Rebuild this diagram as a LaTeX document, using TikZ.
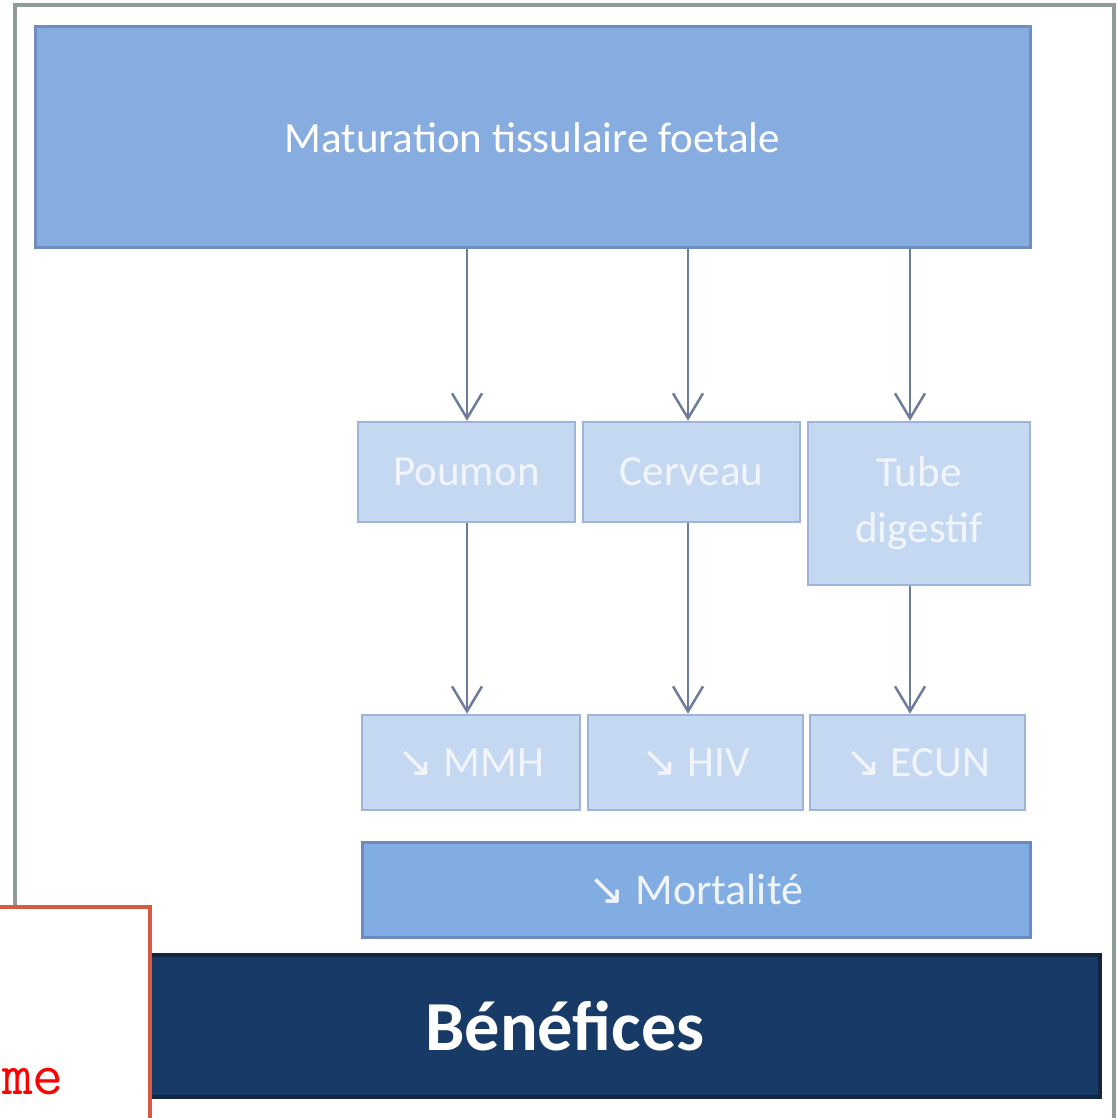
\documentclass[tikz,border=0pt]{standalone}
\usepackage{fontspec}
\setmainfont{Carlito}
\newfontfamily\symfont{DejaVu Sans}
\usetikzlibrary{arrows.meta}
\definecolor{framegray}{HTML}{8E9C94}
\definecolor{topfill}{HTML}{86ACE0}
\definecolor{topedge}{HTML}{6F8DBD}
\definecolor{lightfill}{HTML}{C5D8F2}
\definecolor{lightedge}{HTML}{9FB4D8}
\definecolor{lighttext}{HTML}{F1F5FB}
\definecolor{mortfill}{HTML}{82ADE2}
\definecolor{mortedge}{HTML}{6C8AC0}
\definecolor{navyfill}{HTML}{183A66}
\definecolor{navyedge}{HTML}{14253F}
\definecolor{arrowcol}{HTML}{6E7C9C}
\definecolor{redframe}{HTML}{D65A45}
\tikzset{
  boxbase/.style={rectangle, inner sep=0pt, align=center},
  topbox/.style={boxbase, fill=topfill, draw=topedge, line width=0.06cm, text=white, font=\fontsize{24.5}{28}\selectfont},
  lightbox/.style={boxbase, fill=lightfill, draw=lightedge, line width=0.05cm, text=lighttext, font=\fontsize{24.5}{32}\selectfont},
  mortbox/.style={boxbase, fill=mortfill, draw=mortedge, line width=0.06cm, text=lighttext, font=\fontsize{25}{28}\selectfont},
  navybox/.style={boxbase, fill=navyfill, draw=navyedge, line width=0.08cm, text=white, font=\fontsize{40}{44}\selectfont\bfseries},
  flowarrow/.style={draw=arrowcol, line width=0.05cm, -{Straight Barb[length=0.5cm, width=0.6cm, line width=0.05cm]}},
}
\newcommand{\dn}{{\symfont\char"2198}}
\begin{document}
\begin{tikzpicture}[x=0.02cm, y=-0.02cm]
\useasboundingbox (0,0) rectangle (1117,1118);
\clip (0,0) rectangle (1117,1118);
\fill[white] (0,0) rectangle (1117,1118);
% outer frame
\draw[framegray, line width=0.09cm] (15,5) rectangle (1114,1160);
% boxes
\node[topbox, minimum width=995*0.02cm, minimum height=221*0.02cm] (top) at (532.5,137.5) {Maturation tissulaire foetale};
\node[lightbox, minimum width=217*0.02cm, minimum height=100*0.02cm] (poumon) at (466.5,472) {Poumon};
\node[lightbox, minimum width=217*0.02cm, minimum height=100*0.02cm] (cerveau) at (691.5,472) {Cerveau};
\node[lightbox, minimum width=222*0.02cm, minimum height=163*0.02cm] (tube) at (919,503.5) {Tube\\digestif};
\node[lightbox, minimum width=218*0.02cm, minimum height=95*0.02cm] (mmh) at (471,762.5) {\dn\ MMH};
\node[lightbox, minimum width=215*0.02cm, minimum height=95*0.02cm] (hiv) at (695.5,762.5) {\dn\ HIV};
\node[lightbox, minimum width=215*0.02cm, minimum height=95*0.02cm] (ecun) at (917.5,762.5) {\dn\ ECUN};
\node[mortbox, minimum width=668*0.02cm, minimum height=95*0.02cm] (mort) at (696,889.5) {\dn\ Mortalité};
\node[navybox, minimum width=950*0.02cm, minimum height=142*0.02cm] (ben) at (625,1026) {Bénéfices\hspace*{2.4cm}};
% arrows
\draw[flowarrow] (top.south -| 467,0) -- (poumon.north -| 467,0);
\draw[flowarrow] (top.south -| 688,0) -- (cerveau.north -| 688,0);
\draw[flowarrow] (top.south -| 910,0) -- (tube.north -| 910,0);
\draw[flowarrow] (poumon.south -| 467,0) -- (mmh.north -| 467,0);
\draw[flowarrow] (cerveau.south -| 688,0) -- (hiv.north -| 688,0);
\draw[flowarrow] (tube.south -| 910,0) -- (ecun.north -| 910,0);
% red framed box
\node[rectangle, inner sep=0pt, fill=white, draw=redframe, line width=0.08cm, minimum width=170*0.02cm, minimum height=230*0.02cm] (redbox) at (65,1022) {};
\node[anchor=base east, inner sep=0pt, text=red, font=\ttfamily\fontsize{34}{36}\selectfont] (frag) at (64,1094) {me};
\end{tikzpicture}
\end{document}
